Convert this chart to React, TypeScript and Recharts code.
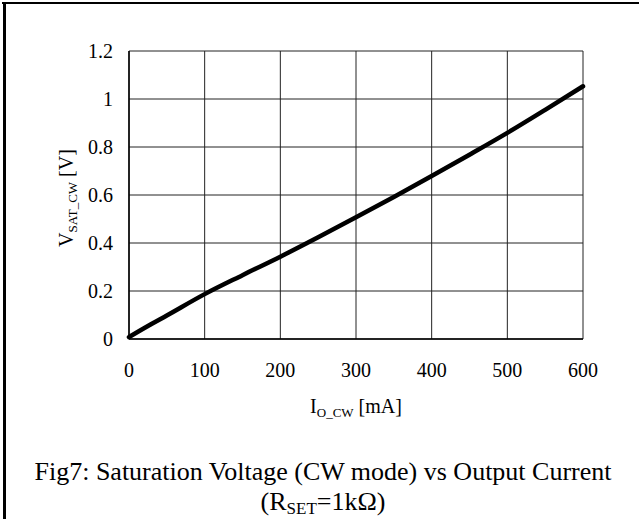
import React from "react";
import { LineChart, Line, XAxis, YAxis, CartesianGrid } from "recharts";

const currents = [0, 25, 50, 100, 150, 200, 250, 300, 350, 400, 450, 500, 550, 600];
const voltages = [0.008, 0.054, 0.098, 0.187, 0.266, 0.343, 0.424, 0.507, 0.592, 0.679, 0.768, 0.859, 0.955, 1.053];
const xTicks = [0, 100, 200, 300, 400, 500, 600];
const yTicks = [0, 0.2, 0.4, 0.6, 0.8, 1, 1.2];

const data = currents.map((c, i) => ({ i: c, v: voltages[i] }));

const FONT = "'Liberation Serif', 'Times New Roman', serif";

const XLabel = (props: any) => {
  const vb = props.viewBox || {};
  const cx = vb.x + vb.width / 2;
  const y = vb.y + 74;
  return (
    <text x={cx} y={y} textAnchor="middle" fontFamily={FONT} fontSize={20} fill="#000">
      <tspan>I</tspan>
      <tspan fontSize={13} dy={4}>O_CW</tspan>
      <tspan dy={-4}> [mA]</tspan>
    </text>
  );
};

const YLabel = (props: any) => {
  const vb = props.viewBox || {};
  const cy = vb.y + vb.height / 2 + 3;
  const x = 73;
  return (
    <text
      x={x}
      y={cy}
      transform={`rotate(-90, ${x}, ${cy})`}
      textAnchor="middle"
      fontFamily={FONT}
      fontSize={20}
      fill="#000"
    >
      <tspan>V</tspan>
      <tspan fontSize={13} dy={4}>SAT_CW</tspan>
      <tspan dy={-4}> [V]</tspan>
    </text>
  );
};

export default function App() {
  return (
    <div style={{ position: "absolute", left: 0, top: 0, width: 639, height: 519, background: "#fff", fontFamily: FONT, overflow: "hidden" }}>
      <div style={{ position: "absolute", left: 2, top: 2, width: 637, height: 2, background: "#000" }} />
      <div style={{ position: "absolute", left: 3, top: 2, width: 3, height: 517, background: "#000" }} />
      <div style={{ position: "absolute", left: 0, top: 0 }}>
        <LineChart
          width={639}
          height={519}
          data={data}
          margin={{ top: 51, right: 56, bottom: 120, left: 0 }}
        >
          <CartesianGrid stroke="#222" strokeWidth={1} horizontal vertical />
          <XAxis
            dataKey="i"
            type="number"
            domain={[0, 600]}
            ticks={xTicks}
            height={60}
            tickSize={0}
            tickMargin={24}
            tickLine={false}
            axisLine={{ stroke: "#000", strokeWidth: 1.5 }}
            tick={{ fill: "#000", fontSize: 20, fontFamily: FONT }}
            interval={0}
            label={<XLabel />}
          />
          <YAxis
            type="number"
            domain={[0, 1.2]}
            ticks={yTicks}
            width={129}
            tickSize={0}
            tickMargin={16}
            tickLine={false}
            axisLine={{ stroke: "#000", strokeWidth: 1.5 }}
            tick={{ fill: "#000", fontSize: 20, fontFamily: FONT }}
            interval={0}
            label={<YLabel />}
          />
          <Line
            dataKey="v"
            type="monotone"
            stroke="#000"
            strokeWidth={4.5}
            dot={false}
            isAnimationActive={false}
            strokeLinecap="round"
          />
        </LineChart>
      </div>
      <div
        style={{
          position: "absolute",
          left: 0,
          width: 646,
          top: 457,
          textAlign: "center",
          fontFamily: FONT,
          fontSize: 26,
          lineHeight: "30px",
          color: "#000",
          whiteSpace: "nowrap",
        }}
      >
        <div>Fig7: Saturation Voltage (CW mode) vs Output Current</div>
        <div>
          (R<sub style={{ fontSize: 17, verticalAlign: "-4px", lineHeight: 0 }}>SET</sub>=1kΩ)
        </div>
      </div>
    </div>
  );
}
